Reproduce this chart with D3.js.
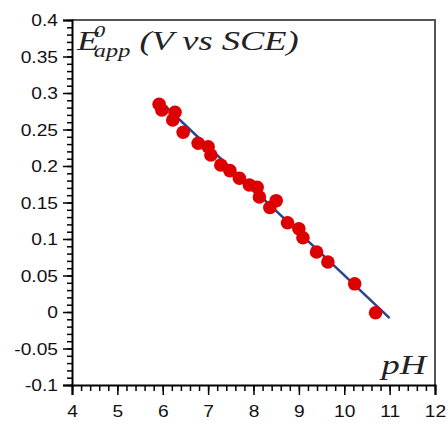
<!DOCTYPE html>
<html>
<head>
<meta charset="utf-8">
<script src="https://cdn.jsdelivr.net/npm/d3@7"></script>
<style>
html,body{margin:0;padding:0;background:#fff;}
svg{display:block;}
</style>
</head>
<body>
<svg id="chart" width="448" height="423"></svg>
<script>
// Data
const pH = [5.92, 5.98, 6.27, 6.22, 6.45, 6.78, 7.00, 7.06, 7.28, 7.48, 7.69, 7.91, 8.08, 8.13, 8.36, 8.50, 8.75, 9.00, 9.09, 9.39, 9.64, 10.23, 10.69];
const E0 = [0.2845, 0.2767, 0.2736, 0.2630, 0.2462, 0.2311, 0.2264, 0.2151, 0.2014, 0.1936, 0.1832, 0.1740, 0.1708, 0.1575, 0.1432, 0.1525, 0.1223, 0.1141, 0.1018, 0.0822, 0.0685, 0.0386, -0.0010];
const fitX = [5.9, 11.0];
const fitY = [0.2911, -0.0083];
const xTicks = [4, 5, 6, 7, 8, 9, 10, 11, 12];
const yTicks = [-0.1, -0.05, 0, 0.05, 0.1, 0.15, 0.2, 0.25, 0.3, 0.35, 0.4];
const yTickLabels = ["-0.1", "-0.05", "0", "0.05", "0.1", "0.15", "0.2", "0.25", "0.3", "0.35", "0.4"];

const svg = d3.select("#chart");
const L = 72, R = 435, T = 20, B = 385;
const x = d3.scaleLinear().domain([4, 12]).range([L, R]);
const y = d3.scaleLinear().domain([-0.1, 0.4]).range([B, T]);

// frame top & right
svg.append("path")
  .attr("d", `M${L},${T}H${R}V${B}`)
  .attr("fill", "none").attr("stroke", "#555").attr("stroke-width", 2);

// fit line
svg.append("line")
  .attr("x1", x(fitX[0])).attr("y1", y(fitY[0]))
  .attr("x2", x(fitX[1])).attr("y2", y(fitY[1]))
  .attr("stroke", "#2b4590").attr("stroke-width", 2.5);

// points
svg.append("g").selectAll("circle").data(pH.map((p, i) => [p, E0[i]])).join("circle")
  .attr("cx", d => x(d[0])).attr("cy", d => y(d[1])).attr("r", 6.8)
  .attr("fill", "#dd0000");

// X axis
const xMinor = d3.range(4, 12.0001, 0.2);
const gx = svg.append("g").attr("transform", `translate(0,${B})`);
gx.call(d3.axisBottom(x).tickValues(xMinor).tickSize(6).tickFormat(""));
gx.call(g => g.selectAll(".tick line").attr("stroke-width", 1.5));
const gx2 = svg.append("g").attr("transform", `translate(0,${B})`);
gx2.call(d3.axisBottom(x).tickValues(xTicks).tickSize(10).tickFormat(d3.format("d")));
gx2.selectAll(".tick line").attr("stroke-width", 1.5);
gx2.select(".domain").attr("stroke-width", 2);
gx.select(".domain").remove();
gx2.selectAll(".tick text")
  .attr("font-family", "Liberation Sans, Arial, sans-serif").attr("font-size", 16).attr("fill", "#111")
  .attr("y", 0).attr("dy", 0)
  .attr("transform", "translate(0,32) scale(1.2,1)");

// Y axis
const yMinor = d3.range(-0.1, 0.4001, 0.01);
const gy = svg.append("g").attr("transform", `translate(${L},0)`);
gy.call(d3.axisLeft(y).tickValues(yMinor).tickSize(5).tickFormat(""));
gy.selectAll(".tick line").attr("stroke-width", 1.5);
gy.select(".domain").remove();
const gy2 = svg.append("g").attr("transform", `translate(${L},0)`);
gy2.call(d3.axisLeft(y).tickValues(yTicks).tickSize(9).tickFormat((d, i) => yTickLabels[i]));
gy2.selectAll(".tick line").attr("stroke-width", 1.5);
gy2.select(".domain").attr("stroke-width", 2);
gy2.selectAll(".tick text")
  .attr("font-family", "Liberation Sans, Arial, sans-serif").attr("font-size", 16).attr("fill", "#111")
  .attr("x", 0).attr("dy", "0.35em").attr("text-anchor", "end")
  .attr("transform", "translate(-14,0) scale(1.2,1)");

// Axis titles (Times italic)
const yt = svg.append("text")
  .attr("transform", `translate(77,50) scale(1.35,1)`)
  .attr("font-family", "Liberation Serif, Times New Roman, serif")
  .attr("font-style", "italic").attr("font-size", 27).attr("fill", "#222");
yt.append("tspan").text("E");
yt.append("tspan").attr("font-size", 17).attr("x", 12.5).attr("dy", -13).text("0");
yt.append("tspan").attr("font-size", 18).attr("x", 12.5).attr("dy", 20).text("app");
yt.append("tspan").attr("dy", -7).text(" (V vs SCE)");

svg.append("text")
  .attr("transform", `translate(426,374) scale(1.35,1)`)
  .attr("text-anchor", "end")
  .attr("font-family", "Liberation Serif, Times New Roman, serif")
  .attr("font-style", "italic").attr("font-size", 27).attr("fill", "#222")
  .text("pH");
</script>
</body>
</html>
